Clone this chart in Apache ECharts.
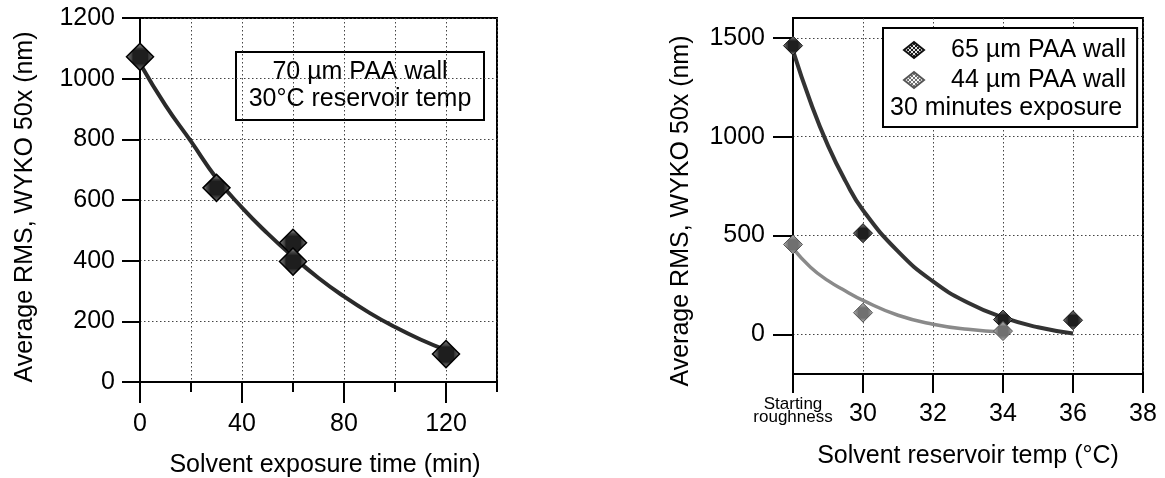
<!DOCTYPE html>
<html>
<head>
<meta charset="utf-8">
<title>Solvent smoothing of PAA walls</title>
<script src="https://cdn.jsdelivr.net/npm/echarts@6/dist/echarts.min.js"></script>
<style>
  html, body { margin: 0; padding: 0; background: #fff; }
  #chart { width: 1165px; height: 478px; }
</style>
</head>
<body>
<div id="chart"></div>
<script>
// Left panel: roughness vs. solvent exposure time (70 µm wall, 30 °C reservoir)
const exposureTime = [0, 30, 60, 60, 120];
const exposureRms = [1072, 640, 459, 397, 92];
const exposureFitTime = [0, 10, 20, 30, 40, 50, 60, 70, 80, 90, 100, 110, 120];
const exposureFitRms = [1050, 912, 793, 672, 575, 490, 413, 343, 282, 228, 181, 140, 105];
const timeTicks = [0, 40, 80, 120];

// Right panel: roughness vs. solvent reservoir temperature (30 min exposure)
// 28 on the temperature axis stands for the starting roughness
const wall65Temp = [28, 30, 34, 36];
const wall65Rms = [1460, 512, 75, 72];
const wall44Temp = [28, 30, 34];
const wall44Rms = [455, 110, 17];
const wall65FitTemp = [28, 28.5, 29, 29.5, 30, 31, 32, 33, 34, 35, 36];
const wall65FitRms = [1435, 1175, 955, 775, 628, 420, 268, 160, 86, 36, 5];
const wall44FitTemp = [28, 28.5, 29, 29.5, 30, 31, 32, 33, 34];
const wall44FitRms = [435, 340, 272, 220, 172, 97, 52, 26, 12];
const rmsTicks = [0, 500, 1000, 1500];

const FONT = "'Liberation Sans', Arial, Helvetica, sans-serif";

function pairs(xs, ys) { return xs.map((x, i) => [x, ys[i]]); }
const plain = v => String(v);

// cross-hatched fill for the diamond markers
function hatch(bg, fg) {
  const c = document.createElement('canvas');
  c.width = 4; c.height = 4;
  const g = c.getContext('2d');
  g.fillStyle = bg; g.fillRect(0, 0, 4, 4);
  g.fillStyle = fg;
  for (let i = 0; i < 4; i++) { g.fillRect(i, i, 1, 1); g.fillRect(3 - i, i, 1, 1); }
  return { image: c, repeat: 'repeat' };
}
const darkFill = hatch('#e2e2e2', '#1e1e1e');
const lightFill = hatch('#f6f6f6', '#707070');

const gridLine = { color: '#444', width: 1, type: [1.5, 2.5] };
const blackLine = { color: '#000', width: 2 };

const chart = echarts.init(document.getElementById('chart'), null, { renderer: 'canvas' });

const option = {
  animation: false,
  backgroundColor: '#fff',
  textStyle: { fontFamily: FONT, color: '#000' },
  grid: [
    { left: 140, top: 18, width: 357, height: 364, outerBoundsMode: 'none',
      show: true, borderColor: '#000', borderWidth: 2 },
    { left: 793, top: 18, width: 350, height: 356, outerBoundsMode: 'none',
      show: true, borderColor: '#000', borderWidth: 2 }
  ],
  xAxis: [
    { // minor ticks + vertical grid every 20 min
      gridIndex: 0, type: 'value', position: 'bottom', min: 0, max: 140, interval: 20,
      axisLine: { onZero: false, lineStyle: blackLine },
      axisTick: { length: 10, lineStyle: blackLine },
      axisLabel: { show: false },
      splitLine: { show: true, lineStyle: gridLine }
    },
    { // labelled major ticks every 40 min
      gridIndex: 0, type: 'value', position: 'bottom', min: 0, max: 140,
      axisLine: { show: false, onZero: false },
      axisTick: { customValues: timeTicks, length: 21, lineStyle: blackLine },
      axisLabel: { customValues: timeTicks, margin: 30, fontSize: 25, color: '#000', fontFamily: FONT, formatter: plain },
      splitLine: { show: false },
      name: 'Solvent exposure time (min)', nameLocation: 'middle', nameGap: 71,
      nameTextStyle: { fontSize: 25, color: '#000', fontFamily: FONT, padding: [0, 0, 0, 13] }
    },
    {
      gridIndex: 1, type: 'value', position: 'bottom', min: 28, max: 38, interval: 2,
      axisLine: { onZero: false, lineStyle: blackLine },
      axisTick: { length: 19, lineStyle: blackLine },
      axisLabel: {
        margin: 40, verticalAlign: 'middle', fontSize: 25, color: '#000', fontFamily: FONT,
        formatter: v => v === 28 ? '{s|Starting}\n{s|roughness}\n{e|}' : String(v),
        rich: {
          s: { fontSize: 17, lineHeight: 13, fontFamily: FONT, color: '#000' },
          e: { fontSize: 6, lineHeight: 6 }
        }
      },
      splitLine: { show: true, lineStyle: gridLine },
      name: 'Solvent reservoir temp (°C)', nameLocation: 'middle', nameGap: 70,
      nameTextStyle: { fontSize: 25, color: '#000', fontFamily: FONT }
    }
  ],
  yAxis: [
    {
      gridIndex: 0, type: 'value', min: 0, max: 1200, interval: 200,
      axisLine: { onZero: false, lineStyle: blackLine },
      axisTick: { length: 18, lineStyle: blackLine },
      axisLabel: { margin: 25, fontSize: 25, color: '#000', fontFamily: FONT, formatter: plain },
      splitLine: { show: true, lineStyle: gridLine },
      name: 'Average RMS, WYKO 50x (nm)', nameLocation: 'middle', nameGap: 102,
      nameTextStyle: { fontSize: 25, color: '#000', fontFamily: FONT, padding: [0, 14, 0, 0] }
    },
    {
      gridIndex: 1, type: 'value', min: -200, max: 1600,
      axisLine: { onZero: false, lineStyle: blackLine },
      axisTick: { customValues: rmsTicks, length: 20, lineStyle: blackLine },
      axisLabel: { customValues: rmsTicks, margin: 28, fontSize: 25, color: '#000', fontFamily: FONT, formatter: plain },
      splitLine: { show: true, lineStyle: gridLine },
      name: 'Average RMS, WYKO 50x (nm)', nameLocation: 'middle', nameGap: 99,
      nameTextStyle: { fontSize: 25, color: '#000', fontFamily: FONT, padding: [0, 30, 0, 0] }
    }
  ],
  legend: {
    data: ['65 µm PAA wall', '44 µm PAA wall'],
    orient: 'vertical', left: 883, top: 28,
    padding: [9, 11, 34, 20],
    itemWidth: 20, itemHeight: 16, itemGap: 4,
    icon: 'diamond',
    backgroundColor: '#fff', borderColor: '#000', borderWidth: 2, borderRadius: 0,
    selectedMode: false,
    textStyle: { fontSize: 25, lineHeight: 26, color: '#000', fontFamily: FONT, padding: [0, 0, 0, 22] }
  },
  graphic: [
    {
      type: 'group', z: 100,
      children: [
        { type: 'rect', shape: { x: 236, y: 52, width: 248, height: 68 },
          style: { fill: '#fff', stroke: '#000', lineWidth: 2 } },
        { type: 'text', x: 360, y: 86,
          style: { text: '70 µm PAA wall\n30°C reservoir temp', fontSize: 25, fontFamily: FONT,
                   fill: '#000', align: 'center', verticalAlign: 'middle', lineHeight: 27 } }
      ]
    },
    { type: 'text', z: 100, x: 890, y: 108,
      style: { text: '30 minutes exposure', fontSize: 25, fontFamily: FONT, fill: '#000',
               align: 'left', verticalAlign: 'middle' } }
  ],
  series: [
    { type: 'line', name: 'exposure fit', xAxisIndex: 0, yAxisIndex: 0,
      data: pairs(exposureFitTime, exposureFitRms), smooth: 0.5, showSymbol: false,
      lineStyle: { color: '#2a2a2a', width: 4 }, z: 2 },
    { type: 'scatter', name: '70 µm PAA wall', xAxisIndex: 0, yAxisIndex: 0,
      data: pairs(exposureTime, exposureRms), symbol: 'diamond', symbolSize: 27,
      itemStyle: { color: darkFill, borderColor: '#000', borderWidth: 1.5, opacity: 1 }, z: 3 },

    { type: 'line', name: '65 µm fit', xAxisIndex: 2, yAxisIndex: 1,
      data: pairs(wall65FitTemp, wall65FitRms), smooth: 0.5, showSymbol: false,
      lineStyle: { color: '#333', width: 4 }, z: 2 },
    { type: 'line', name: '44 µm fit', xAxisIndex: 2, yAxisIndex: 1,
      data: pairs(wall44FitTemp, wall44FitRms), smooth: 0.5, showSymbol: false,
      lineStyle: { color: '#8a8a8a', width: 3.5 }, z: 2 },
    { type: 'scatter', name: '65 µm PAA wall', xAxisIndex: 2, yAxisIndex: 1,
      data: pairs(wall65Temp, wall65Rms), symbol: 'diamond', symbolSize: 19,
      itemStyle: { color: darkFill, borderColor: '#111', borderWidth: 1, opacity: 1 }, z: 3 },
    { type: 'scatter', name: '44 µm PAA wall', xAxisIndex: 2, yAxisIndex: 1,
      data: pairs(wall44Temp, wall44Rms), symbol: 'diamond', symbolSize: 19,
      itemStyle: { color: lightFill, borderColor: '#555', borderWidth: 1, opacity: 1 }, z: 3 }
  ]
};

chart.setOption(option);
</script>
</body>
</html>
